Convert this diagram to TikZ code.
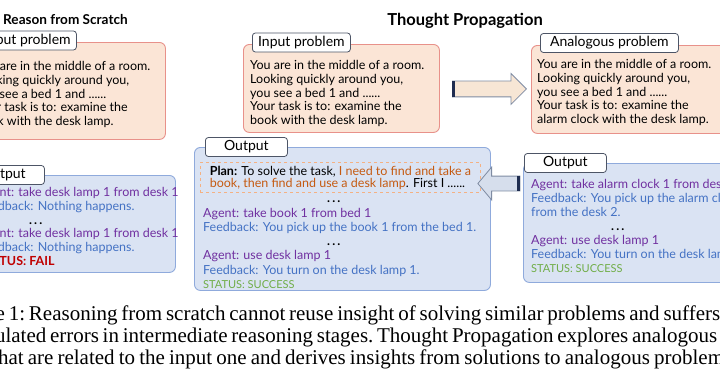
\documentclass[tikz,border=0pt]{standalone}
\usepackage{fontspec}
\setmainfont{Liberation Serif}
\newfontfamily\boxfont{Lato}
\usetikzlibrary{
  arrows.meta,
  calc,
  positioning,
  shapes.arrows
}
\definecolor{probfill}{HTML}{FBE5D6}
\definecolor{probline}{HTML}{E8918A}
\definecolor{outfill}{HTML}{DAE3F3}
\definecolor{outline}{HTML}{8FAADC}
\definecolor{tagline}{HTML}{4D5566}
\definecolor{agent}{HTML}{7030A0}
\definecolor{feedback}{HTML}{4472C4}
\definecolor{success}{HTML}{70AD47}
\definecolor{fail}{HTML}{C00000}
\definecolor{plantext}{HTML}{C55A11}
\definecolor{plandash}{HTML}{F4B183}
\definecolor{proparrow}{HTML}{F7E6D5}
\definecolor{reusearrow}{HTML}{D6DEEC}
\definecolor{arrowline}{HTML}{7F8CA3}
\definecolor{tailink}{HTML}{1F2D50}
\newcommand\topstrut{\rule{0pt}{10pt}}
\newcommand\agentln[1]{{\color{agent}#1}}
\newcommand\feedln[1]{{\color{feedback}#1}}
% one justified caption line, stretched to a given width
\newcommand\capline[2]{\hbox to #1{\frenchspacing\spaceskip=0.25em plus 0.25em minus 0.18em #2}}

\begin{document}
\begin{tikzpicture}[
  x=1pt, y=-1pt,
  panel/.style={
    rounded corners=6pt,
    line width=0.9pt,
    inner sep=0pt,
    anchor=north west
  },
  probbox/.style={panel, draw=probline, fill=probfill},
  outbox/.style={panel, draw=outline, fill=outfill},
  tagbox/.style={
    draw=tagline,
    fill=white,
    rounded corners=3pt,
    line width=0.8pt,
    minimum height=19pt,
    inner sep=0pt,
    anchor=west,
    font=\boxfont\fontsize{14}{15}\selectfont
  },
  body/.style={
    anchor=north west,
    inner sep=0pt,
    align=left,
    font=\boxfont\fontsize{12.5}{13.9}\selectfont
  },
  plannote/.style={
    draw=plandash,
    dashed,
    line width=0.9pt,
    anchor=north west,
    inner xsep=3pt,
    inner ysep=2.75pt,
    minimum width=280pt,
    align=left,
    font=\boxfont\fontsize{12.5}{12.5}\selectfont
  },
  heading/.style={
    anchor=base,
    inner sep=0pt,
    font=\boxfont\bfseries\fontsize{15}{18}\selectfont
  },
  blockarrow/.style={
    single arrow,
    draw=arrowline,
    line width=0.8pt,
    inner xsep=0pt,
    inner ysep=7.5pt,
    single arrow head extend=7.5pt,
    single arrow tip angle=90
  },
  tailbar/.style={draw=tailink, line width=3pt},
  caption/.style={
    anchor=base west,
    inner sep=0pt,
    font=\fontsize{21}{23}\selectfont
  }
]
\useasboundingbox (0,0) rectangle (720,380);
\fill[white] (0,0) rectangle (720,380);
\clip (0,0) rectangle (720,380);

% Titles
\node[heading, anchor=base west, font=\boxfont\bfseries\fontsize{13.6}{16}\selectfont] (scratchtitle) at (3,24) {Reason from Scratch};
\node[heading, font=\boxfont\bfseries\fontsize{16.5}{18}\selectfont] (tptitle) at (465,25) {Thought Propagation};

% Reason from scratch
\node[probbox, minimum width=196pt, minimum height=97pt] (scratchin) at (-31,42) {};
\node[tagbox, minimum width=98pt] (scratchintag) at ([xshift=9pt, yshift=1.5pt]scratchin.north west) {Input problem};
\node[body] (scratchintext) at ([xshift=7pt, yshift=-18pt]scratchin.north west) {\topstrut You are in the middle of a room.\\
  Looking quickly around you,\\
  you see a bed 1 and ......\\
  Your task is to: examine the\\
  book with the desk lamp.};

\node[outbox, minimum width=205pt, minimum height=97pt] (scratchout) at (-30,175) {};
\node[tagbox, minimum width=82pt] (scratchouttag) at ([xshift=-8pt]scratchout.north west) {Output};
\node[body] (scratchouttext) at ([xshift=8pt, yshift=-11pt]scratchout.north west) {\topstrut\agentln{Agent: take desk lamp 1 from desk 1}\\
  \feedln{Feedback: Nothing happens.}\\
  \hspace*{51pt}\textbf{.\,.\,.}\\
  \agentln{Agent: take desk lamp 1 from desk 1}\\
  \feedln{Feedback: Nothing happens.}\\
  {\color{fail}\bfseries STATUS: FAIL}};

% Thought propagation
\node[probbox, minimum width=196pt, minimum height=88pt] (midin) at (243,44) {};
\node[tagbox, minimum width=98pt] (midintag) at ([xshift=9pt, yshift=1.5pt]midin.north west) {Input problem};
\node[body] (midintext) at ([xshift=7pt, yshift=-15pt]midin.north west) {\topstrut You are in the middle of a room.\\
  Looking quickly around you,\\
  you see a bed 1 and ......\\
  Your task is to: examine the\\
  book with the desk lamp.};

\node[probbox, minimum width=196pt, minimum height=88pt] (anain) at (531,45) {};
\node[tagbox, minimum width=138pt] (anaintag) at ([xshift=9pt, yshift=2pt]anain.north west) {Analogous problem};
\node[body] (anaintext) at ([xshift=6pt, yshift=-13pt]anain.north west) {\topstrut You are in the middle of a room.\\
  Looking quickly around you,\\
  you see a bed 1 and ......\\
  Your task is to: examine the\\
  alarm clock with the desk lamp.};

\node[outbox, minimum width=296pt, minimum height=143pt] (midout) at (194,147) {};
\node[tagbox, minimum width=82pt] (midouttag) at ([xshift=11pt]midout.north west) {Output};
\node[plannote] (plan) at ([xshift=6pt, yshift=-15pt]midout.north west) {\topstrut\textbf{Plan:} To solve the task, {\color{plantext}I need to find and take a}\\
  {\color{plantext}book, then find and use a desk lamp}. First I ......};
\node[body, font=\boxfont\fontsize{12.5}{14.3}\selectfont] (midouttext) at ([xshift=9pt, yshift=-45.5pt]midout.north west) {\topstrut\hspace*{124pt}\textbf{.\,.\,.}\\
  \agentln{Agent: take book 1 from bed 1}\\
  \feedln{Feedback: You pick up the book 1 from the bed 1.}\\
  \hspace*{124pt}\textbf{.\,.\,.}\\
  \agentln{Agent: use desk lamp 1}\\
  \feedln{Feedback: You turn on the desk lamp 1.}\\
  {\color{success}\fontsize{11}{12}\selectfont STATUS: SUCCESS}};

\node[outbox, minimum width=260pt, minimum height=119pt] (anaout) at (523,163) {};
\node[tagbox, minimum width=82pt] (anaouttag) at ([xshift=1pt]anaout.north west) {Output};
\node[body, font=\boxfont\fontsize{12.5}{14}\selectfont] (anaouttext) at ([xshift=8pt, yshift=-15.5pt]anaout.north west) {\topstrut\agentln{Agent: take alarm clock 1 from desk 2}\\
  \feedln{Feedback: You pick up the alarm clock 1}\\
  \feedln{from the desk 2.}\\
  \hspace*{80pt}\textbf{.\,.\,.}\\
  \agentln{Agent: use desk lamp 1}\\
  \feedln{Feedback: You turn on the desk lamp 1.}\\
  {\color{success}\fontsize{11}{12}\selectfont STATUS: SUCCESS}};

% Block arrows
\node[blockarrow, fill=proparrow, minimum height=74pt] (propagate) at ($(midin.east)!0.5!(anain.west)$) {};
\draw[tailbar] ([xshift=1.6pt]propagate.before tail) -- ([xshift=1.6pt]propagate.after tail);
\node[blockarrow, fill=reusearrow, minimum height=42pt, inner ysep=7pt, single arrow head extend=9pt, single arrow tip angle=100, shape border rotate=180] (reuse)
  at ($($(plan.east)!0.5!(plan.east -| anaout.west)$) + (0,6)$) {};
\draw[tailbar] ([xshift=-1.6pt]reuse.before tail) -- ([xshift=-1.6pt]reuse.after tail);

% Caption
\node[caption] (cap1) at (-50,320) {\capline{770pt}{Figure 1: Reasoning from scratch cannot reuse insight of solving similar problems and suffers}};
\node[caption] (cap2) at (-60,342) {\capline{777pt}{accumulated errors in intermediate reasoning stages. Thought Propagation explores analogous}};
\node[caption] (cap3) at (-8,364) {\capline{740pt}{that are related to the input one and derives insights from solutions to analogous problems}};
\end{tikzpicture}
\end{document}
